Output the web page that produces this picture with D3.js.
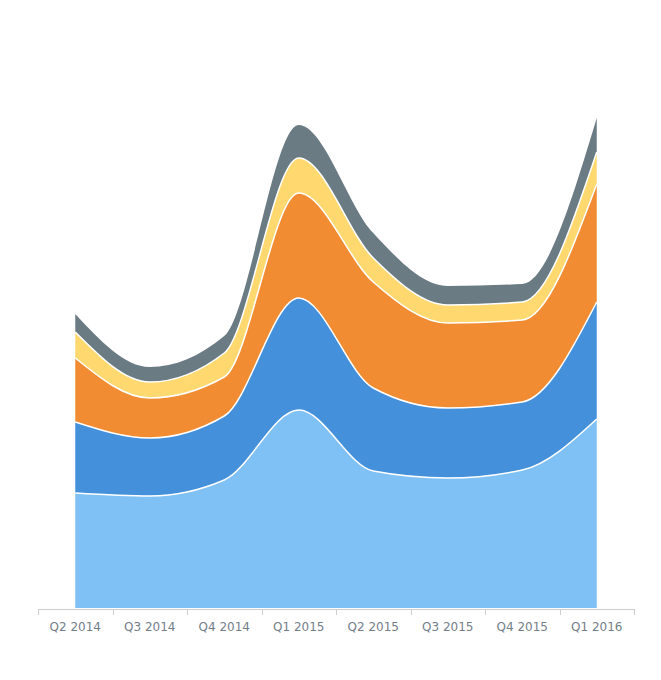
<!DOCTYPE html>
<html>
<head>
<meta charset="utf-8">
<script src="https://cdn.jsdelivr.net/npm/d3@7"></script>
<style>
  html, body { margin: 0; padding: 0; background: #fff; }
  svg { display: block; }
</style>
</head>
<body>
<svg id="chart" width="661" height="680"></svg>
<script>
const categories = ["Q2 2014", "Q3 2014", "Q4 2014", "Q1 2015", "Q2 2015", "Q3 2015", "Q4 2015", "Q1 2016"];
const seriesNames = ["s1", "s2", "s3", "s4", "s5"];
const s1 = [115, 112, 128, 198, 137, 130, 138, 189];
const s2 = [71, 58, 64, 112, 83, 70, 68, 117];
const s3 = [64, 40, 39, 105, 106, 85, 82, 118];
const s4 = [26, 16, 24, 35, 24, 18, 18, 32];
const s5 = [18, 15, 17, 33, 25, 19, 18, 34];
const colors = ["#80c1f5", "#4590db", "#f28c33", "#ffd970", "#6b7b84"];

const seriesValues = [s1, s2, s3, s4, s5];
const rows = categories.map((c, i) => {
  const r = { cat: c };
  seriesNames.forEach((n, k) => r[n] = seriesValues[k][i]);
  return r;
});

const svg = d3.select("#chart");
const x = d3.scaleBand().domain(categories).range([38, 634]);
const y = d3.scaleLinear().domain([0, 500]).range([608, 108]);
const cx = d => x(d.data.cat) + x.bandwidth() / 2;

const stacked = d3.stack().keys(seriesNames)(rows);

const curve = d3.curveMonotoneX;
const area = d3.area()
  .x(cx).y0(d => y(d[0])).y1(d => y(d[1]))
  .curve(curve);
const topLine = d3.line()
  .x(cx).y(d => y(d[1]))
  .curve(curve);

const g = svg.append("g");
g.selectAll("path.area").data(stacked).join("path")
  .attr("class", "area")
  .attr("d", area)
  .attr("fill", (d, i) => colors[i]);
g.selectAll("path.top").data(stacked.slice(0, 4)).join("path")
  .attr("class", "top")
  .attr("d", topLine)
  .attr("fill", "none")
  .attr("stroke", "#fff")
  .attr("stroke-width", 1.5);

// X axis
const axisY = 609;
const axis = d3.axisBottom(x).tickSize(0).tickPadding(13);
const ag = svg.append("g").attr("transform", `translate(0,${axisY})`).call(axis);
ag.select(".domain").remove();
ag.selectAll("text")
  .attr("font-family", "Verdana, 'DejaVu Sans', sans-serif")
  .attr("font-size", 12)
  .attr("fill", "#737e89");
ag.append("line")
  .attr("x1", 38).attr("x2", 634).attr("y1", 0.5).attr("y2", 0.5)
  .attr("stroke", "#cecece");
const edges = categories.map(c => x(c)).concat([x.range()[1]]);
ag.selectAll("line.edge").data(edges).join("line")
  .attr("class", "edge")
  .attr("x1", d => Math.round(d) + 0.5).attr("x2", d => Math.round(d) + 0.5)
  .attr("y1", 0).attr("y2", 6)
  .attr("stroke", "#cecece");
</script>
</body>
</html>
